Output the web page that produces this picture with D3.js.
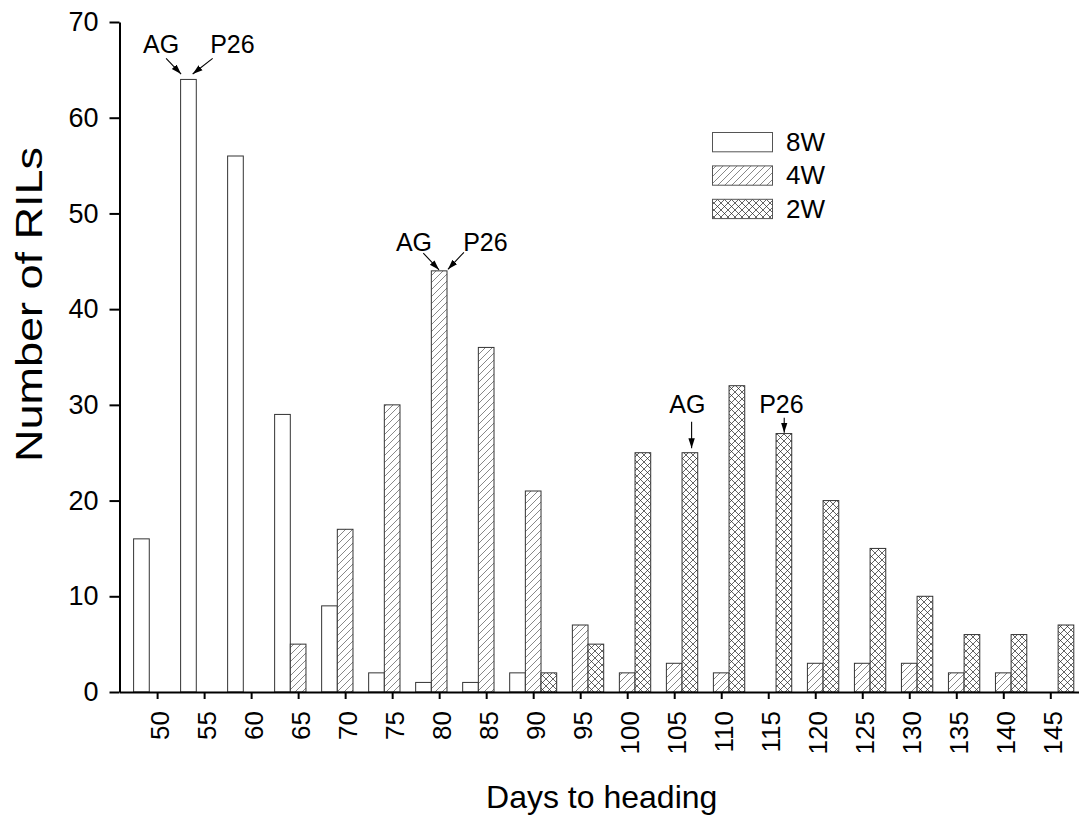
<!DOCTYPE html>
<html><head><meta charset="utf-8">
<script src="https://cdn.jsdelivr.net/npm/d3@7/dist/d3.min.js"></script>
<style>
body{margin:0;background:#fff}
svg{display:block}
text{font-family:Arial,"Liberation Sans",sans-serif;fill:#000}
</style>
</head><body>
<svg id="chart" width="1084" height="816"></svg>
<script>
// ---- data ----
const bins = [50,55,60,65,70,75,80,85,90,95,100,105,110,115,120,125,130,135,140,145];
const seriesNames = ["8W","4W","2W"];
const values8W = [16,64,56,29,9,2,1,1,2,0,0,0,0,0,0,0,0,0,0,0];
const values4W = [0,0,0,5,17,30,44,36,21,7,2,3,2,0,3,3,3,2,2,0];
const values2W = [0,0,0,0,0,0,0,0,2,5,25,25,32,27,20,15,10,6,6,7];
const yTicks = [0,10,20,30,40,50,60,70];
const xTitle = "Days to heading";
const yTitle = "Number of RILs";
const annLabels = ["AG","P26","AG","P26","AG","P26"];
const annBins = [55,55,80,80,105,115];
const annSeries = ["8W","8W","4W","4W","2W","2W"];

const seriesValues = {"8W":values8W,"4W":values4W,"2W":values2W};

const svg = d3.select("#chart");
const defs = svg.append("defs");

// patterns
const pDiag = defs.append("pattern").attr("id","diag").attr("patternUnits","userSpaceOnUse")
  .attr("width",7).attr("height",7);
pDiag.append("rect").attr("width",7).attr("height",7).attr("fill","#fff");
pDiag.append("path").attr("d","M-1,1 l2,-2 M0,7 l7,-7 M6,8 l2,-2")
  .attr("stroke","#6a6a6a").attr("stroke-width",0.8);
const pCross = defs.append("pattern").attr("id","cross").attr("patternUnits","userSpaceOnUse")
  .attr("width",7).attr("height",7);
pCross.append("rect").attr("width",7).attr("height",7).attr("fill","#fff");
pCross.append("path").attr("d","M-1,1 l2,-2 M0,7 l7,-7 M6,8 l2,-2 M-1,6 l2,2 M0,0 l7,7 M6,-1 l2,2")
  .attr("stroke","#222").attr("stroke-width",0.7);
const fills = {"8W":"#fff","4W":"url(#diag)","2W":"url(#cross)"};

defs.append("marker").attr("id","arrow").attr("viewBox","0 0 10 8")
  .attr("refX",10).attr("refY",4).attr("markerWidth",10).attr("markerHeight",8)
  .attr("markerUnits","userSpaceOnUse").attr("orient","auto")
  .append("path").attr("d","M0,0.8 L10,4 L0,7.2 Z").attr("fill","#000");

// scales
const x = d3.scaleLinear().domain([46,148]).range([119.5,1078.5]);
const y = d3.scaleLinear().domain([0,70]).range([692,22]);
const binW = x(5) - x(0);
const sub = d3.scaleBand().domain(seriesNames).range([0,binW]).padding(0);

// bars
const barData = [];
seriesNames.forEach(s => {
  bins.forEach((b,i) => {
    const v = seriesValues[s][i];
    if (v > 0) barData.push({bin:b, series:s, value:v});
  });
});
svg.append("g").selectAll("rect").data(barData).join("rect")
  .attr("x", d => x(d.bin - 2.5) + sub(d.series))
  .attr("width", sub.bandwidth())
  .attr("y", d => y(d.value))
  .attr("height", d => y(0) - y(d.value))
  .attr("fill", d => fills[d.series])
  .attr("stroke","#333").attr("stroke-width",1);

// axes
const xAxis = d3.axisBottom(x).tickValues(bins).tickSize(7).tickSizeOuter(0).tickPadding(0);
const gx = svg.append("g").attr("transform","translate(0,692)").call(xAxis);
gx.select(".domain").attr("stroke","#000").attr("stroke-width",2);
gx.selectAll(".tick line").attr("stroke","#000").attr("stroke-width",2);
gx.selectAll(".tick text")
  .attr("font-size",26).attr("font-family","Arial, 'Liberation Sans', sans-serif")
  .attr("text-anchor","end")
  .attr("transform","translate(2.5,19) rotate(-90)")
  .attr("x",0).attr("y",0).attr("dy","0.35em");

const yAxis = d3.axisLeft(y).tickValues(yTicks).tickSize(10).tickSizeOuter(0).tickPadding(11);
const gy = svg.append("g").attr("transform","translate(119.5,0)").call(yAxis);
gy.select(".domain").attr("stroke","#000").attr("stroke-width",2);
gy.selectAll(".tick line").attr("stroke","#000").attr("stroke-width",2);
gy.selectAll(".tick text").attr("font-size",27).attr("font-family","Arial, 'Liberation Sans', sans-serif");

// titles
svg.append("text").attr("x",601.7).attr("y",808).attr("text-anchor","middle")
  .attr("font-size",32).text(xTitle);
svg.append("text").attr("transform","translate(41.5,304.5) rotate(-90)")
  .attr("text-anchor","middle").attr("font-size",37)
  .attr("textLength",315).attr("lengthAdjust","spacingAndGlyphs").text(yTitle);

// legend
seriesNames.forEach((s,i) => {
  const ly = 132.5 + i*33.4;
  svg.append("rect").attr("x",712.5).attr("y",ly).attr("width",60).attr("height",19.3)
    .attr("fill",fills[s]).attr("stroke","#555").attr("stroke-width",1);
  svg.append("text").attr("x",786).attr("y",ly+18.5).attr("font-size",26).text(s);
});

// annotations: arrow tip relative to bar top, text placement relative to tip
const annLayout = [
  {tipX:0.03, tipDy:-5.4, sx:-15, sy:-15.7, tx:-20, ty:-20.7},
  {tipX:0.77, tipDy:-5.4, sx:20, sy:-15.7, tx:39.7, ty:-20.7},
  {tipX:0.49, tipDy:-1, sx:-15.7, sy:-16.7, tx:-25, ty:-19.3},
  {tipX:1.06, tipDy:-1.6, sx:16, sy:-17, tx:37.5, ty:-18.6},
  {tipX:0.61, tipDy:-4.4, sx:0, sy:-26.6, tx:-4.2, ty:-35},
  {tipX:0.52, tipDy:-0.9, sx:0, sy:-15, tx:-2.8, ty:-19.4}
];
annLabels.forEach((lab,i) => {
  const bi = bins.indexOf(annBins[i]);
  const v = seriesValues[annSeries[i]][bi];
  const L = annLayout[i];
  const tipX = x(annBins[i] - 2.5) + sub(annSeries[i]) + L.tipX*sub.bandwidth();
  const tipY = y(v) + L.tipDy;
  svg.append("line").attr("x1",tipX+L.sx).attr("y1",tipY+L.sy).attr("x2",tipX).attr("y2",tipY)
    .attr("stroke","#000").attr("stroke-width",1.1).attr("marker-end","url(#arrow)");
  svg.append("text").attr("x",tipX+L.tx).attr("y",tipY+L.ty).attr("text-anchor","middle")
    .attr("font-size",25).text(lab);
});
</script>
</body></html>
